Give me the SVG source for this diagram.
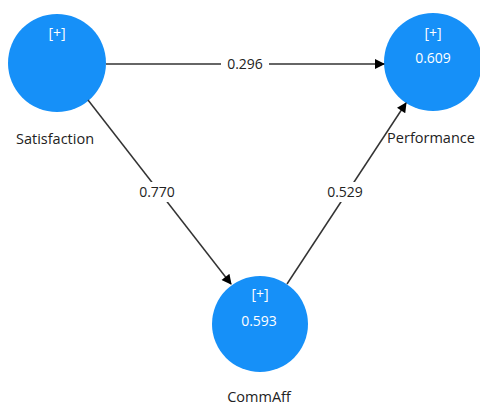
<svg xmlns="http://www.w3.org/2000/svg" width="480" height="406" viewBox="0 0 480 406">
<defs>
<style>
.node{fill:#1690F8;}
.in{fill:#ffffff;font-family:"Open Sans","DejaVu Sans",sans-serif;font-size:14px;text-anchor:middle;}
.lbl{fill:#222222;font-family:"Open Sans","DejaVu Sans",sans-serif;font-size:14.5px;text-anchor:middle;}
.edge{stroke:#333333;stroke-width:1.5;fill:none;marker-end:url(#ah);}
.el{fill:#222222;font-family:"Open Sans","DejaVu Sans",sans-serif;font-size:14px;text-anchor:middle;}
</style>
<marker id="ah" viewBox="0 0 10 10" refX="9" refY="5" markerWidth="11" markerHeight="10" markerUnits="userSpaceOnUse" orient="auto">
<path d="M0,0 L10,5 L0,10 z" fill="#000"/>
</marker>
</defs>
<rect width="480" height="406" fill="#ffffff"/>
<g id="Satisfaction">
<circle class="node" cx="57" cy="63" r="49"/>
<text class="in" x="57" y="38">[+]</text>
<text class="lbl" x="55" y="144">Satisfaction</text>
</g>
<g id="Performance">
<circle class="node" cx="433" cy="62" r="49"/>
<text class="in" x="433" y="38">[+]</text>
<text class="in" x="433" y="63">0.609</text>
<text class="lbl" x="431" y="143">Performance</text>
</g>
<g id="CommAff">
<circle class="node" cx="260" cy="324" r="48"/>
<text class="in" x="260" y="299">[+]</text>
<text class="in" x="259" y="326">0.593</text>
<text class="lbl" x="259" y="402">CommAff</text>
</g>
<g id="connectors">
<line class="edge" x1="106" y1="64" x2="384" y2="64"/>
<rect x="221" y="55" width="48" height="18" fill="#fff"/>
<text class="el" x="245" y="69">0.296</text>
<line class="edge" x1="88" y1="100" x2="231" y2="284"/>
<rect x="133" y="182" width="48" height="20" fill="#fff"/>
<text class="el" x="157" y="197">0.770</text>
<line class="edge" x1="287" y1="284" x2="406" y2="103"/>
<rect x="321" y="182" width="48" height="20" fill="#fff"/>
<text class="el" x="345" y="197">0.529</text>
</g>
</svg>
